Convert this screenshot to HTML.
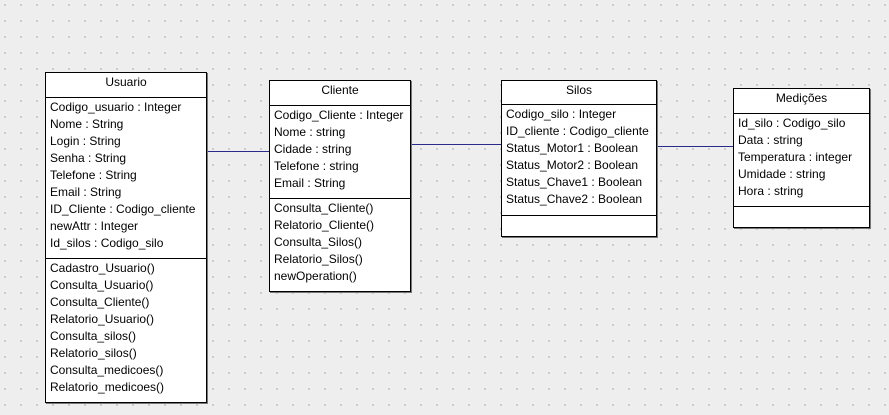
<!DOCTYPE html>
<html><head><meta charset="utf-8"><style>
html,body{margin:0;padding:0}
body{width:889px;height:415px;position:relative;overflow:hidden;background-color:#eeeeee;
background-image:radial-gradient(circle at 1px 1px,#c4c4c4 0.9px,transparent 1.1px);background-size:16px 16px;background-position:4px 4px;
font-family:"Liberation Sans",Arial,sans-serif;font-size:12px;color:#000}
.box{position:absolute;background:#fff;border:1px solid #000;box-sizing:border-box;box-shadow:1px 1px 0 #777}
.h{border-bottom:1px solid #000;text-align:center;box-sizing:border-box;padding-top:2px;line-height:15px}
.s{border-bottom:1px solid #000;box-sizing:border-box;padding:1px 0 0 4px;line-height:17px;white-space:nowrap}
.o{box-sizing:border-box;padding:1px 0 0 4px;line-height:17px;white-space:nowrap}
.ln{position:absolute;height:1px;background:#2a2a8a}
</style></head><body>
<div class="ln" style="left:206px;top:151px;width:63px"></div>
<div class="ln" style="left:410px;top:144px;width:91px"></div>
<div class="ln" style="left:656px;top:146px;width:77px"></div>

<div class="box" style="left:45px;top:72px;width:162px;height:331px">
<div class="h" style="height:25px">Usuario</div>
<div class="s" style="height:161px">Codigo_usuario : Integer<br>Nome : String<br>Login : String<br>Senha : String<br>Telefone : String<br>Email : String<br>ID_Cliente : Codigo_cliente<br>newAttr : Integer<br>Id_silos : Codigo_silo</div>
<div class="o">Cadastro_Usuario()<br>Consulta_Usuario()<br>Consulta_Cliente()<br>Relatorio_Usuario()<br>Consulta_silos()<br>Relatorio_silos()<br>Consulta_medicoes()<br>Relatorio_medicoes()</div>
</div>

<div class="box" style="left:269px;top:80px;width:142px;height:212px">
<div class="h" style="height:25px">Cliente</div>
<div class="s" style="height:93px">Codigo_Cliente : Integer<br>Nome : string<br>Cidade : string<br>Telefone : string<br>Email : String</div>
<div class="o">Consulta_Cliente()<br>Relatorio_Cliente()<br>Consulta_Silos()<br>Relatorio_Silos()<br>newOperation()</div>
</div>

<div class="box" style="left:501px;top:80px;width:156px;height:157px">
<div class="h" style="height:24px">Silos</div>
<div class="s" style="height:111px">Codigo_silo : Integer<br>ID_cliente : Codigo_cliente<br>Status_Motor1 : Boolean<br>Status_Motor2 : Boolean<br>Status_Chave1 : Boolean<br>Status_Chave2 : Boolean</div>
</div>

<div class="box" style="left:733px;top:88px;width:137px;height:140px">
<div class="h" style="height:25px">Medições</div>
<div class="s" style="height:93px">Id_silo : Codigo_silo<br>Data : string<br>Temperatura : integer<br>Umidade : string<br>Hora : string</div>
</div>
</body></html>
